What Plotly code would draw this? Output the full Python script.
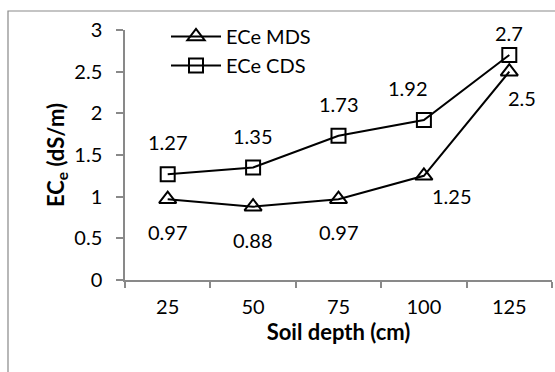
import plotly.graph_objects as go

depths = ["25", "50", "75", "100", "125"]
ece_mds = [0.97, 0.88, 0.97, 1.25, 2.5]
ece_cds = [1.27, 1.35, 1.73, 1.92, 2.7]
mds_text = ["0.97", "0.88", "0.97", "1.25", "2.5"]
cds_text = ["1.27", "1.35", "1.73", "1.92", "2.7"]

# label offsets in pixels (style only)
mds_off = [(0, -33), (0, -33), (0, -33), (28, -20), (13, -26)]
cds_off = [(0, 32), (0, 32), (0, 32), (-16, 32), (0, 22)]

FONT = "Lato"
FS = 20
GRAY = "#898989"
W, H = 555, 372
L, R, T, B = 125, 3, 30, 92

fig = go.Figure()
fig.add_trace(go.Scatter(
    x=depths, y=ece_mds, name="ECe MDS", mode="lines+markers",
    line=dict(color="black", width=2),
    marker=dict(symbol="triangle-up-open", size=15, color="black", line=dict(width=2)),
))
fig.add_trace(go.Scatter(
    x=depths, y=ece_cds, name="ECe CDS", mode="lines+markers",
    line=dict(color="black", width=2),
    marker=dict(symbol="square-open", size=14, color="black", line=dict(width=2)),
))

for ys, ts, offs in [(ece_mds, mds_text, mds_off), (ece_cds, cds_text, cds_off)]:
    for i, (yv, tv, (dx, dy)) in enumerate(zip(ys, ts, offs)):
        fig.add_annotation(x=i, y=yv, xref="x", yref="y", text=tv, showarrow=False,
                           xshift=dx, yshift=dy, font=dict(size=FS, family=FONT, color="black"))

pw = W - L - R
ph = H - T - B
fig.add_shape(type="rect", xref="paper", yref="paper",
              x0=(8 - L) / pw, x1=(W + 20 - L) / pw,
              y0=(H - B - (H + 20)) / ph, y1=(H - B - 11) / ph,
              line=dict(color=GRAY, width=1.2), fillcolor="rgba(0,0,0,0)", layer="below")

fig.update_layout(
    width=W, height=H, margin=dict(l=L, r=R, t=T, b=B),
    paper_bgcolor="white", plot_bgcolor="white",
    font=dict(family=FONT, size=FS, color="black"),
    showlegend=True,
    legend=dict(x=(166 - L) / pw, y=(H - B - 17) / ph, xanchor="left", yanchor="top",
                itemwidth=50,
                bgcolor="rgba(0,0,0,0)", font=dict(size=FS, family=FONT), tracegroupgap=0),
    xaxis=dict(type="category", range=[-0.5, 4.5], tickson="boundaries",
               ticks="outside", ticklen=6, tickcolor=GRAY, tickwidth=1.5,
               showline=True, linecolor=GRAY, linewidth=1.5, showgrid=False,
               tickfont=dict(size=FS), zeroline=False, ticklabelstandoff=8,
               title=dict(text="<b>Soil depth (cm)</b>", font=dict(size=22), standoff=0)),
    yaxis=dict(range=[0, 3], dtick=0.5, ticks="outside", ticklen=7, tickcolor=GRAY,
               tickwidth=1.5, showline=True, linecolor=GRAY, linewidth=1.5,
               showgrid=False, zeroline=False, tickfont=dict(size=FS), ticklabelstandoff=10,
               title=dict(text="<b>EC<sub>e</sub> (dS/m)</b>", font=dict(size=22), standoff=4)),
)

fig.write_html("out.html")
